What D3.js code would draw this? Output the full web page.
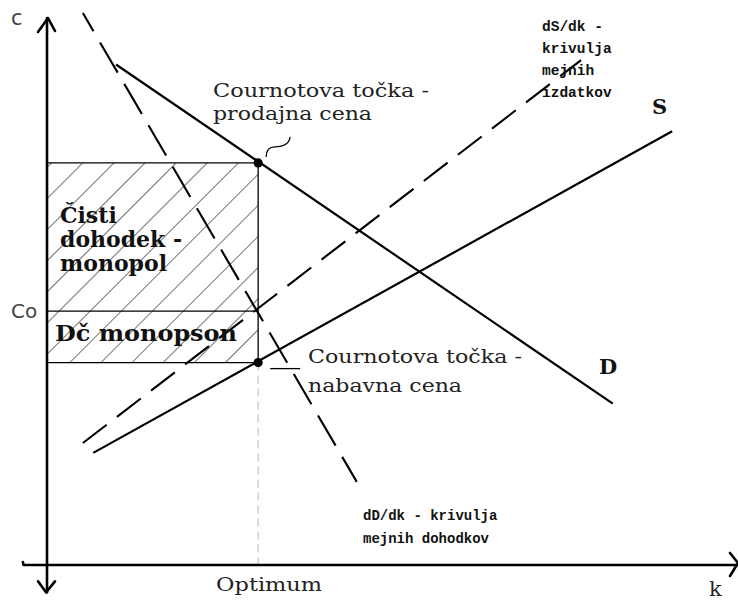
<!DOCTYPE html>
<html><head><meta charset="utf-8">
<script src="https://cdn.jsdelivr.net/npm/d3@7"></script>
<style>html,body{margin:0;padding:0;background:#fff;} svg{display:block}</style>
</head><body>
<svg id="chart" width="738" height="600"></svg>
<script>
// ---- data ----
const xLabel = "k";
const yLabel = "c";
const optimumLabel = "Optimum";
const coLabel = "Co";
const optimumK = 30.6;      // optimum quantity
const sellPriceC = 73.5;    // prodajna cena
const coC = 46.4;           // Co
const buyPriceC = 37.0;     // nabavna cena
const curveNames = ["D", "S"];
const demandD = [[10, 91.5], [82, 29.5]];
const supplyS = [[6.7, 20.5], [90.6, 79.3]];
const marginalCostDS = [[5.2, 22.3], [77.4, 92.3]];
const marginalRevenueDD = [[5.2, 100.9], [44.9, 15.2]];
const areaLabelMonopol = ["Čisti", "dohodek -", "monopol"];
const areaLabelMonopson = "Dč monopson";
const cournotSellLabel = ["Cournotova točka -", "prodajna cena"];
const cournotBuyLabel = ["Cournotova točka -", "nabavna cena"];
const dsLabel = ["dS/dk -", "krivulja", "mejnih", "izdatkov"];
const ddLabel = ["dD/dk - krivulja", "mejnih dohodkov"];

// ---- scales ----
const x = d3.scaleLinear().domain([0, 100]).range([47, 737]);
const y = d3.scaleLinear().domain([0, 100]).range([565, 18]);
const svg = d3.select("#chart");
const line = d3.line().x(d => x(d[0])).y(d => y(d[1]));

const serif = "'DejaVu Serif', 'Liberation Serif', serif";
const mono = "'Liberation Mono', 'DejaVu Sans Mono', monospace";

// hatch pattern
const defs = svg.append("defs");
const pat = defs.append("pattern").attr("id", "hatch")
  .attr("patternUnits", "userSpaceOnUse").attr("width", 22).attr("height", 22)
  .attr("patternTransform", "translate(82,163) rotate(45)");
pat.append("line").attr("x1", 0).attr("y1", -5).attr("x2", 0).attr("y2", 27)
  .attr("stroke", "#000").attr("stroke-width", 1.1);

// hatched rectangle (monopoly + monopsony income)
svg.append("rect")
  .attr("x", x(0)).attr("y", y(sellPriceC))
  .attr("width", x(optimumK) - x(0)).attr("height", y(buyPriceC) - y(sellPriceC))
  .attr("fill", "url(#hatch)");
[sellPriceC, coC, buyPriceC].forEach(c => {
  svg.append("line").attr("x1", x(0)).attr("x2", x(optimumK))
    .attr("y1", y(c)).attr("y2", y(c))
    .attr("stroke", "#000").attr("stroke-width", 1.3);
});
svg.append("line").attr("x1", x(optimumK)).attr("x2", x(optimumK))
  .attr("y1", y(sellPriceC)).attr("y2", y(buyPriceC))
  .attr("stroke", "#000").attr("stroke-width", 1.3);
// grey dashed drop line to optimum
svg.append("line").attr("x1", x(optimumK)).attr("x2", x(optimumK))
  .attr("y1", y(buyPriceC)).attr("y2", y(0))
  .attr("stroke", "#c8c8c8").attr("stroke-width", 1.3).attr("stroke-dasharray", "8,5");

// ---- axes ----
const axisStyle = g => g.attr("fill", "none").attr("stroke", "#000").attr("stroke-width", 2.6)
  .attr("stroke-linejoin", "round").attr("stroke-linecap", "round");
svg.append("path").call(axisStyle)
  .attr("d", line([[0, 100], [0, -5]]));
svg.append("path").call(axisStyle)
  .attr("d", `M${x(-3.5)},${y(0) - 3}L${x(-3.4)},${y(0)}L${x(100)},${y(0)}`);
// arrow heads
svg.append("path").call(axisStyle)
  .attr("d", `M${x(0) - 9},${y(100) + 14}L${x(0) + 1},${y(100)}L${x(0) + 8},${y(100) + 13}`);
svg.append("path").call(axisStyle)
  .attr("d", `M${x(0) - 9},${y(-5) - 11}L${x(0) - 1},${y(-5)}L${x(0) + 8},${y(-5) - 11}`);
svg.append("path").call(axisStyle)
  .attr("d", `M${x(100) - 7},${y(0) - 12}L${x(100) + 1},${y(0) - 2}L${x(100) - 7},${y(0) + 11}`);

// ---- curves ----
const solid = (data) => svg.append("path").attr("d", line(data))
  .attr("fill", "none").attr("stroke", "#000").attr("stroke-width", 2.2);
solid(demandD);
solid(supplyS);
svg.append("path").attr("d", line(marginalCostDS))
  .attr("fill", "none").attr("stroke", "#000").attr("stroke-width", 2.1)
  .attr("stroke-dasharray", "30,13");
svg.append("path").attr("d", line(marginalRevenueDD))
  .attr("fill", "none").attr("stroke", "#000").attr("stroke-width", 2.1)
  .attr("stroke-dasharray", "35,13").attr("stroke-dashoffset", 14);

// Cournot points
[sellPriceC, buyPriceC].forEach(c => {
  svg.append("circle").attr("cx", x(optimumK)).attr("cy", y(c)).attr("r", 4.6).attr("fill", "#000");
});

// leader lines
svg.append("path")
  .attr("d", `M${x(optimumK) + 8},${y(sellPriceC) - 6} C${x(optimumK) + 8},${y(sellPriceC) - 13} ${x(optimumK) + 11},${y(sellPriceC) - 16} ${x(optimumK) + 17},${y(sellPriceC) - 16} S${x(optimumK) + 31},${y(sellPriceC) - 18} ${x(optimumK) + 32},${y(sellPriceC) - 26}`)
  .attr("fill", "none").attr("stroke", "#000").attr("stroke-width", 1.3);
svg.append("line").attr("x1", x(optimumK) + 12).attr("x2", x(optimumK) + 42)
  .attr("y1", y(buyPriceC) + 6).attr("y2", y(buyPriceC) + 6)
  .attr("stroke", "#000").attr("stroke-width", 1.3);

// ---- texts ----
const txt = (s, tx, ty, font, size, opts = {}) => {
  const t = svg.append("text").attr("x", tx).attr("y", ty).text(s)
    .attr("font-family", font).attr("font-size", size)
    .attr("fill", opts.fill || "#222").attr("font-weight", opts.weight || "normal");
  if (opts.len) t.attr("textLength", opts.len).attr("lengthAdjust", "spacingAndGlyphs");
  return t;
};
txt(yLabel, 11, 25, "'DejaVu Sans', sans-serif", 21, {fill: "#444"});
txt(coLabel, 11, y(coC) + 7, "'DejaVu Sans', sans-serif", 20, {fill: "#444"});
txt(xLabel, 709, 596, serif, 21, {fill: "#222"});
txt(optimumLabel, x(optimumK) - 42, 591, serif, 19, {fill: "#222", len: 106});

txt(cournotSellLabel[0], 213, 97, serif, 18.5, {fill: "#222", len: 216});
txt(cournotSellLabel[1], 213, 120, serif, 18.5, {fill: "#222", len: 159});
txt(cournotBuyLabel[0], 308, 363, serif, 18.5, {fill: "#222", len: 214});
txt(cournotBuyLabel[1], 308, 392, serif, 18.5, {fill: "#222", len: 154});

areaLabelMonopol.forEach((s, i) => txt(s, 60, 223 + i * 24, serif, 22, {fill: "#111", weight: "bold"}));
txt(areaLabelMonopson, 55, 341, serif, 22, {fill: "#111", weight: "bold", len: 182});

txt(curveNames[1], 652, 114, serif, 21, {fill: "#111", weight: "bold"});
txt(curveNames[0], 599, 374, serif, 21, {fill: "#111", weight: "bold"});

dsLabel.forEach((s, i) => txt(s, 542, 31 + i * 22, mono, 14.5, {fill: "#111", weight: "bold"}));
ddLabel.forEach((s, i) => txt(s, 363, 520 + i * 23, mono, 14, {fill: "#111", weight: "bold"}));
</script>
</body></html>
